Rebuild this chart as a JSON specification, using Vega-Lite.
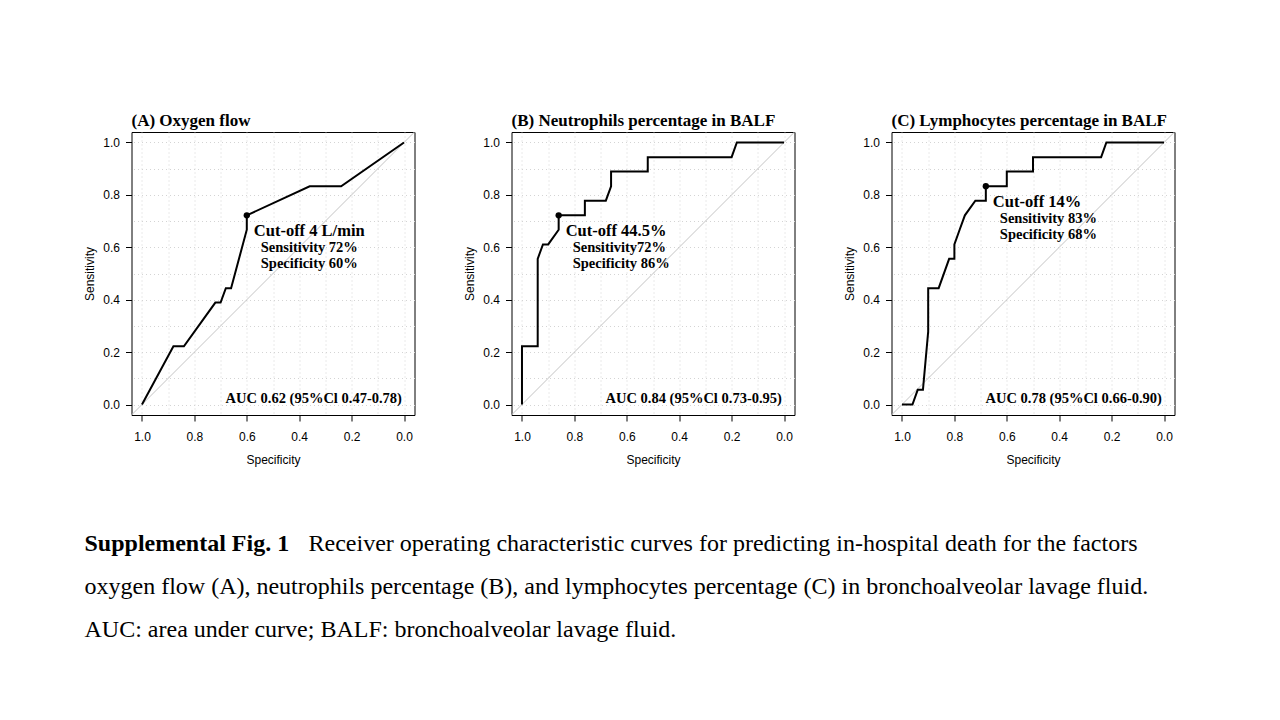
{
  "$schema": "https://vega.github.io/schema/vega-lite/v6.json",
  "background": "white",
  "padding": {"left": 82.5, "top": 112, "right": 5, "bottom": 5},
  "config": {
    "view": {"stroke": "black", "strokeWidth": 1},
    "font": "Liberation Sans"
  },
  "datasets": {
    "all": [
      {"panel": "(A) Oxygen flow", "kind": "curve", "i": 1, "spec": 1.0, "sens": 0.0},
      {"panel": "(A) Oxygen flow", "kind": "curve", "i": 2, "spec": 0.88, "sens": 0.222},
      {"panel": "(A) Oxygen flow", "kind": "curve", "i": 3, "spec": 0.84, "sens": 0.222},
      {"panel": "(A) Oxygen flow", "kind": "curve", "i": 4, "spec": 0.72, "sens": 0.389},
      {"panel": "(A) Oxygen flow", "kind": "curve", "i": 5, "spec": 0.70, "sens": 0.389},
      {"panel": "(A) Oxygen flow", "kind": "curve", "i": 6, "spec": 0.68, "sens": 0.444},
      {"panel": "(A) Oxygen flow", "kind": "curve", "i": 7, "spec": 0.66, "sens": 0.444},
      {"panel": "(A) Oxygen flow", "kind": "curve", "i": 8, "spec": 0.60, "sens": 0.667},
      {"panel": "(A) Oxygen flow", "kind": "curve", "i": 9, "spec": 0.60, "sens": 0.722},
      {"panel": "(A) Oxygen flow", "kind": "curve", "i": 10, "spec": 0.36, "sens": 0.833},
      {"panel": "(A) Oxygen flow", "kind": "curve", "i": 11, "spec": 0.24, "sens": 0.833},
      {"panel": "(A) Oxygen flow", "kind": "curve", "i": 12, "spec": 0.0, "sens": 1.0},

      {"panel": "(B) Neutrophils percentage in BALF", "kind": "curve", "i": 1, "spec": 1.0, "sens": 0.0},
      {"panel": "(B) Neutrophils percentage in BALF", "kind": "curve", "i": 2, "spec": 1.0, "sens": 0.222},
      {"panel": "(B) Neutrophils percentage in BALF", "kind": "curve", "i": 3, "spec": 0.94, "sens": 0.222},
      {"panel": "(B) Neutrophils percentage in BALF", "kind": "curve", "i": 4, "spec": 0.94, "sens": 0.556},
      {"panel": "(B) Neutrophils percentage in BALF", "kind": "curve", "i": 5, "spec": 0.92, "sens": 0.611},
      {"panel": "(B) Neutrophils percentage in BALF", "kind": "curve", "i": 6, "spec": 0.90, "sens": 0.611},
      {"panel": "(B) Neutrophils percentage in BALF", "kind": "curve", "i": 7, "spec": 0.86, "sens": 0.667},
      {"panel": "(B) Neutrophils percentage in BALF", "kind": "curve", "i": 8, "spec": 0.86, "sens": 0.722},
      {"panel": "(B) Neutrophils percentage in BALF", "kind": "curve", "i": 9, "spec": 0.76, "sens": 0.722},
      {"panel": "(B) Neutrophils percentage in BALF", "kind": "curve", "i": 10, "spec": 0.76, "sens": 0.778},
      {"panel": "(B) Neutrophils percentage in BALF", "kind": "curve", "i": 11, "spec": 0.68, "sens": 0.778},
      {"panel": "(B) Neutrophils percentage in BALF", "kind": "curve", "i": 12, "spec": 0.66, "sens": 0.833},
      {"panel": "(B) Neutrophils percentage in BALF", "kind": "curve", "i": 13, "spec": 0.66, "sens": 0.889},
      {"panel": "(B) Neutrophils percentage in BALF", "kind": "curve", "i": 14, "spec": 0.52, "sens": 0.889},
      {"panel": "(B) Neutrophils percentage in BALF", "kind": "curve", "i": 15, "spec": 0.52, "sens": 0.944},
      {"panel": "(B) Neutrophils percentage in BALF", "kind": "curve", "i": 16, "spec": 0.20, "sens": 0.944},
      {"panel": "(B) Neutrophils percentage in BALF", "kind": "curve", "i": 17, "spec": 0.18, "sens": 1.0},
      {"panel": "(B) Neutrophils percentage in BALF", "kind": "curve", "i": 18, "spec": 0.0, "sens": 1.0},

      {"panel": "(C) Lymphocytes percentage in BALF", "kind": "curve", "i": 1, "spec": 1.0, "sens": 0.0},
      {"panel": "(C) Lymphocytes percentage in BALF", "kind": "curve", "i": 2, "spec": 0.96, "sens": 0.0},
      {"panel": "(C) Lymphocytes percentage in BALF", "kind": "curve", "i": 3, "spec": 0.94, "sens": 0.056},
      {"panel": "(C) Lymphocytes percentage in BALF", "kind": "curve", "i": 4, "spec": 0.92, "sens": 0.056},
      {"panel": "(C) Lymphocytes percentage in BALF", "kind": "curve", "i": 5, "spec": 0.90, "sens": 0.278},
      {"panel": "(C) Lymphocytes percentage in BALF", "kind": "curve", "i": 6, "spec": 0.90, "sens": 0.444},
      {"panel": "(C) Lymphocytes percentage in BALF", "kind": "curve", "i": 7, "spec": 0.86, "sens": 0.444},
      {"panel": "(C) Lymphocytes percentage in BALF", "kind": "curve", "i": 8, "spec": 0.82, "sens": 0.556},
      {"panel": "(C) Lymphocytes percentage in BALF", "kind": "curve", "i": 9, "spec": 0.80, "sens": 0.556},
      {"panel": "(C) Lymphocytes percentage in BALF", "kind": "curve", "i": 10, "spec": 0.80, "sens": 0.611},
      {"panel": "(C) Lymphocytes percentage in BALF", "kind": "curve", "i": 11, "spec": 0.78, "sens": 0.667},
      {"panel": "(C) Lymphocytes percentage in BALF", "kind": "curve", "i": 12, "spec": 0.76, "sens": 0.722},
      {"panel": "(C) Lymphocytes percentage in BALF", "kind": "curve", "i": 13, "spec": 0.72, "sens": 0.778},
      {"panel": "(C) Lymphocytes percentage in BALF", "kind": "curve", "i": 14, "spec": 0.68, "sens": 0.778},
      {"panel": "(C) Lymphocytes percentage in BALF", "kind": "curve", "i": 15, "spec": 0.68, "sens": 0.833},
      {"panel": "(C) Lymphocytes percentage in BALF", "kind": "curve", "i": 16, "spec": 0.60, "sens": 0.833},
      {"panel": "(C) Lymphocytes percentage in BALF", "kind": "curve", "i": 17, "spec": 0.60, "sens": 0.889},
      {"panel": "(C) Lymphocytes percentage in BALF", "kind": "curve", "i": 18, "spec": 0.50, "sens": 0.889},
      {"panel": "(C) Lymphocytes percentage in BALF", "kind": "curve", "i": 19, "spec": 0.50, "sens": 0.944},
      {"panel": "(C) Lymphocytes percentage in BALF", "kind": "curve", "i": 20, "spec": 0.24, "sens": 0.944},
      {"panel": "(C) Lymphocytes percentage in BALF", "kind": "curve", "i": 21, "spec": 0.22, "sens": 1.0},
      {"panel": "(C) Lymphocytes percentage in BALF", "kind": "curve", "i": 22, "spec": 0.0, "sens": 1.0},

      {"panel": "(A) Oxygen flow", "kind": "cut", "i": 0, "spec": 0.60, "sens": 0.722, "cutoff": "Cut-off 4 L/min", "sensText": "Sensitivity 72%", "specText": "Specificity 60%", "auc": "AUC 0.62 (95%Cl 0.47-0.78)"},
      {"panel": "(B) Neutrophils percentage in BALF", "kind": "cut", "i": 0, "spec": 0.86, "sens": 0.722, "cutoff": "Cut-off 44.5%", "sensText": "Sensitivity72%", "specText": "Specificity 86%", "auc": "AUC 0.84 (95%Cl 0.73-0.95)"},
      {"panel": "(C) Lymphocytes percentage in BALF", "kind": "cut", "i": 0, "spec": 0.68, "sens": 0.833, "cutoff": "Cut-off 14%", "sensText": "Sensitivity 83%", "specText": "Specificity 68%", "auc": "AUC 0.78 (95%Cl 0.66-0.90)"}
    ],
    "caption": [
      {"line": 1, "bold": "Supplemental Fig. 1", "text": "Receiver operating characteristic curves for predicting in-hospital death for the factors"},
      {"line": 2, "bold": "", "text": "oxygen flow (A), neutrophils percentage (B), and lymphocytes percentage (C) in bronchoalveolar lavage fluid."},
      {"line": 3, "bold": "", "text": "AUC: area under curve; BALF: bronchoalveolar lavage fluid."}
    ]
  },
  "vconcat": [
    {
      "data": {"name": "all"},
      "facet": {
        "column": {
          "field": "panel", "type": "nominal", "title": null,
          "header": {
            "labelFont": "Liberation Serif", "labelFontSize": 17, "labelFontWeight": "bold",
            "labelColor": "black", "labelAnchor": "start", "labelPadding": 2, "labelLimit": 0
          }
        }
      },
      "spacing": 97,
      "bounds": "flush",
      "resolve": {"axis": {"x": "independent", "y": "independent"}},
      "spec": {
        "width": 283,
        "height": 283,
        "encoding": {
          "x": {
            "field": "spec", "type": "quantitative",
            "scale": {"domain": [-0.04, 1.04], "reverse": true, "nice": false, "zero": false},
            "axis": {
              "title": "Specificity",
              "values": [0, 0.1, 0.2, 0.3, 0.4, 0.5, 0.6, 0.7, 0.8, 0.9, 1.0],
              "labelExpr": "round(datum.value*10) % 2 == 0 ? format(datum.value, '.1f') : ''",
              "tickOpacity": {"condition": {"test": "round(datum.value*10) % 2 == 1", "value": 0}, "value": 1},
              "grid": true, "gridColor": "#d4d4d4", "gridDash": [1, 3], "gridWidth": 1,
              "domain": false, "tickColor": "black", "tickSize": 6, "tickWidth": 1,
              "labelFont": "Liberation Sans", "labelFontSize": 12, "labelColor": "black", "labelPadding": 10,
              "titleFont": "Liberation Sans", "titleFontSize": 12, "titleFontWeight": "normal", "titleColor": "black", "titlePadding": 12
            }
          },
          "y": {
            "field": "sens", "type": "quantitative",
            "scale": {"domain": [-0.04, 1.04], "nice": false, "zero": false},
            "axis": {
              "title": "Sensitivity",
              "values": [0, 0.1, 0.2, 0.3, 0.4, 0.5, 0.6, 0.7, 0.8, 0.9, 1.0],
              "labelExpr": "round(datum.value*10) % 2 == 0 ? format(datum.value, '.1f') : ''",
              "tickOpacity": {"condition": {"test": "round(datum.value*10) % 2 == 1", "value": 0}, "value": 1},
              "grid": true, "gridColor": "#d4d4d4", "gridDash": [1, 3], "gridWidth": 1,
              "domain": false, "tickColor": "black", "tickSize": 6, "tickWidth": 1,
              "labelFont": "Liberation Sans", "labelFontSize": 12, "labelColor": "black", "labelPadding": 6,
              "titleFont": "Liberation Sans", "titleFontSize": 12, "titleFontWeight": "normal", "titleColor": "black", "titlePadding": 6
            }
          }
        },
        "layer": [
          {
            "transform": [{"filter": "datum.kind == 'cut'"}],
            "mark": {"type": "rule", "color": "#c4c4c4", "strokeWidth": 1},
            "encoding": {
              "x": {"datum": 1.04, "type": "quantitative", "scale": {"domain": [-0.04, 1.04], "reverse": true, "nice": false, "zero": false}},
              "y": {"datum": -0.04, "type": "quantitative", "scale": {"domain": [-0.04, 1.04], "nice": false, "zero": false}},
              "x2": {"datum": -0.04},
              "y2": {"datum": 1.04}
            }
          },
          {
            "transform": [{"filter": "datum.kind == 'curve'"}],
            "mark": {"type": "line", "color": "black", "strokeWidth": 2, "strokeJoin": "miter"},
            "encoding": {"order": {"field": "i", "type": "quantitative"}}
          },
          {
            "transform": [{"filter": "datum.kind == 'cut'"}],
            "mark": {"type": "circle", "color": "black", "opacity": 1, "size": 40},
            "encoding": {}
          },
          {
            "transform": [{"filter": "datum.kind == 'cut'"}],
            "mark": {"type": "text", "align": "left", "baseline": "middle", "dx": 7, "dy": 16, "font": "Liberation Serif", "fontSize": 16.5, "fontWeight": "bold", "color": "black"},
            "encoding": {"text": {"field": "cutoff"}}
          },
          {
            "transform": [{"filter": "datum.kind == 'cut'"}],
            "mark": {"type": "text", "align": "left", "baseline": "middle", "dx": 14, "dy": 33, "font": "Liberation Serif", "fontSize": 14.5, "fontWeight": "bold", "color": "black"},
            "encoding": {"text": {"field": "sensText"}}
          },
          {
            "transform": [{"filter": "datum.kind == 'cut'"}],
            "mark": {"type": "text", "align": "left", "baseline": "middle", "dx": 14, "dy": 48.5, "font": "Liberation Serif", "fontSize": 14.5, "fontWeight": "bold", "color": "black"},
            "encoding": {"text": {"field": "specText"}}
          },
          {
            "transform": [{"filter": "datum.kind == 'cut'"}],
            "mark": {"type": "text", "align": "right", "baseline": "middle", "font": "Liberation Serif", "fontSize": 14.5, "fontWeight": "bold", "color": "black"},
            "encoding": {
              "x": {"datum": 0.008, "type": "quantitative", "scale": {"domain": [-0.04, 1.04], "reverse": true, "nice": false, "zero": false}},
              "y": {"datum": 0.02, "type": "quantitative", "scale": {"domain": [-0.04, 1.04], "nice": false, "zero": false}},
              "text": {"field": "auc"}
            }
          }
        ]
      }
    },
    {
      "data": {"name": "caption"},
      "width": 1106,
      "height": 130,
      "view": {"stroke": null},
      "encoding": {
        "y": {"field": "line", "type": "ordinal", "axis": null, "scale": {"paddingInner": 0, "paddingOuter": 0}}
      },
      "layer": [
        {
          "transform": [{"filter": "datum.line == 1"}],
          "mark": {"type": "text", "align": "left", "baseline": "alphabetic", "x": 0, "dx": -47, "dy": 8, "font": "Liberation Serif", "fontSize": 24, "fontWeight": "bold", "color": "black"},
          "encoding": {"text": {"field": "bold"}}
        },
        {
          "transform": [{"filter": "datum.line == 1"}],
          "mark": {"type": "text", "align": "left", "baseline": "alphabetic", "x": 0, "dx": 177, "dy": 8, "font": "Liberation Serif", "fontSize": 24, "fontWeight": "normal", "color": "black"},
          "encoding": {"text": {"field": "text"}}
        },
        {
          "transform": [{"filter": "datum.line > 1"}],
          "mark": {"type": "text", "align": "left", "baseline": "alphabetic", "x": 0, "dx": -47, "dy": 8, "font": "Liberation Serif", "fontSize": 24, "fontWeight": "normal", "color": "black"},
          "encoding": {"text": {"field": "text"}}
        }
      ]
    }
  ],
  "spacing": 55
}
